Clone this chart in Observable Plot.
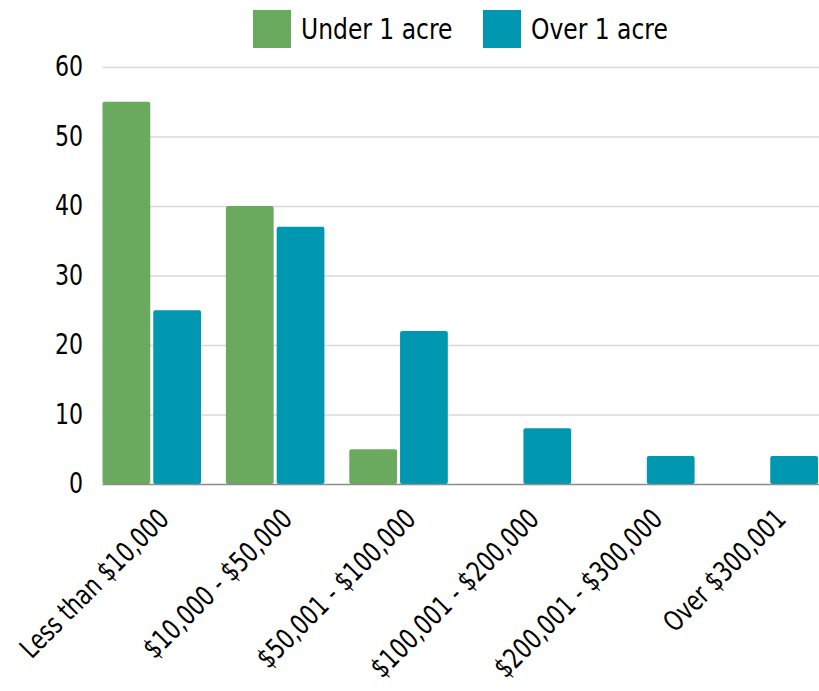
<!DOCTYPE html>
<html><head><meta charset="utf-8">
<script src="https://cdn.jsdelivr.net/npm/d3@7"></script>
<script src="https://cdn.jsdelivr.net/npm/@observablehq/plot@0.6"></script>
<style>
body{margin:0;overflow:hidden;background:#fff;font-family:"DejaVu Sans Condensed","DejaVu Sans",sans-serif;font-stretch:condensed;color:#000;}
svg text{font-stretch:condensed;}
#legend{height:55px;position:relative;}
.item{position:absolute;top:10px;display:flex;align-items:center;font-size:28px;white-space:nowrap;}
.sw{width:38px;height:38px;margin-right:10px;flex:none;}
.lab{display:inline-block;transform:scaleX(0.93);transform-origin:left center;}
</style></head>
<body>
<div id="legend"></div>
<div id="chart"></div>
<script>
const categories = ["Less than $10,000", "$10,000 - $50,000", "$50,001 - $100,000", "$100,001 - $200,000", "$200,001 - $300,000", "Over $300,001"];
const seriesNames = ["Under 1 acre", "Over 1 acre"];
const seriesColors = ["#6aaa5e", "#0097b0"];
const underValues = [55, 40, 5, 0, 0, 0];
const overValues = [25, 37, 22, 8, 4, 4];
const yTicks = [0, 10, 20, 30, 40, 50, 60];

const under = categories.map((c, i) => ({category: c, value: underValues[i]}));
const over = categories.map((c, i) => ({category: c, value: overValues[i]}));

const legend = document.getElementById("legend");
const lefts = [253, 483];
seriesNames.forEach((s, i) => {
  const d = document.createElement("div");
  d.className = "item";
  d.style.left = lefts[i] + "px";
  d.innerHTML = `<div class="sw" style="background:${seriesColors[i]}"></div><span class="lab">${s}</span>`;
  legend.appendChild(d);
});

const chart = Plot.plot({
  width: 823,
  height: 636,
  marginLeft: 103,
  marginRight: 0,
  marginTop: 12,
  marginBottom: 205,
  style: {fontFamily: '"DejaVu Sans Condensed","DejaVu Sans",sans-serif', color: "#000", background: "#fff", overflow: "visible"},
  x: {domain: categories, paddingInner: 0.2016, paddingOuter: 0, align: 0, axis: null},
  y: {domain: [0, 60], axis: null},
  marks: [
    Plot.gridY(yTicks.filter(t => t > 0), {stroke: "#d9d9d9", strokeOpacity: 1, strokeWidth: 1.5}),
    Plot.barY(under.filter(d => d.value > 0), {x: "category", y: "value", fill: seriesColors[0], insetRight: 51, rx: 2}),
    Plot.barY(over.filter(d => d.value > 0), {x: "category", y: "value", fill: seriesColors[1], insetLeft: 51, rx: 2}),
    Plot.ruleY([0], {stroke: "#8c8c8c", strokeWidth: 1.5}),
    Plot.axisY({ticks: yTicks, tickSize: 0, tickPadding: 20, fontSize: 28, label: null, tickFormat: d => String(d)}),
    Plot.axisX({tickRotate: -45, tickSize: 0, tickPadding: 30, fontSize: 28, dx: 12, label: null})
  ]
});
function squeeze(sel, s) {
  chart.querySelectorAll(sel).forEach(t => {
    const tr = t.getAttribute("transform") || "";
    t.setAttribute("transform", tr + ` scale(${s},1)`);
  });
}
squeeze('g[aria-label="x-axis tick label"] text', 0.85);
squeeze('g[aria-label="y-axis tick label"] text', 0.88);
document.getElementById("chart").appendChild(chart);
</script>
</body></html>
